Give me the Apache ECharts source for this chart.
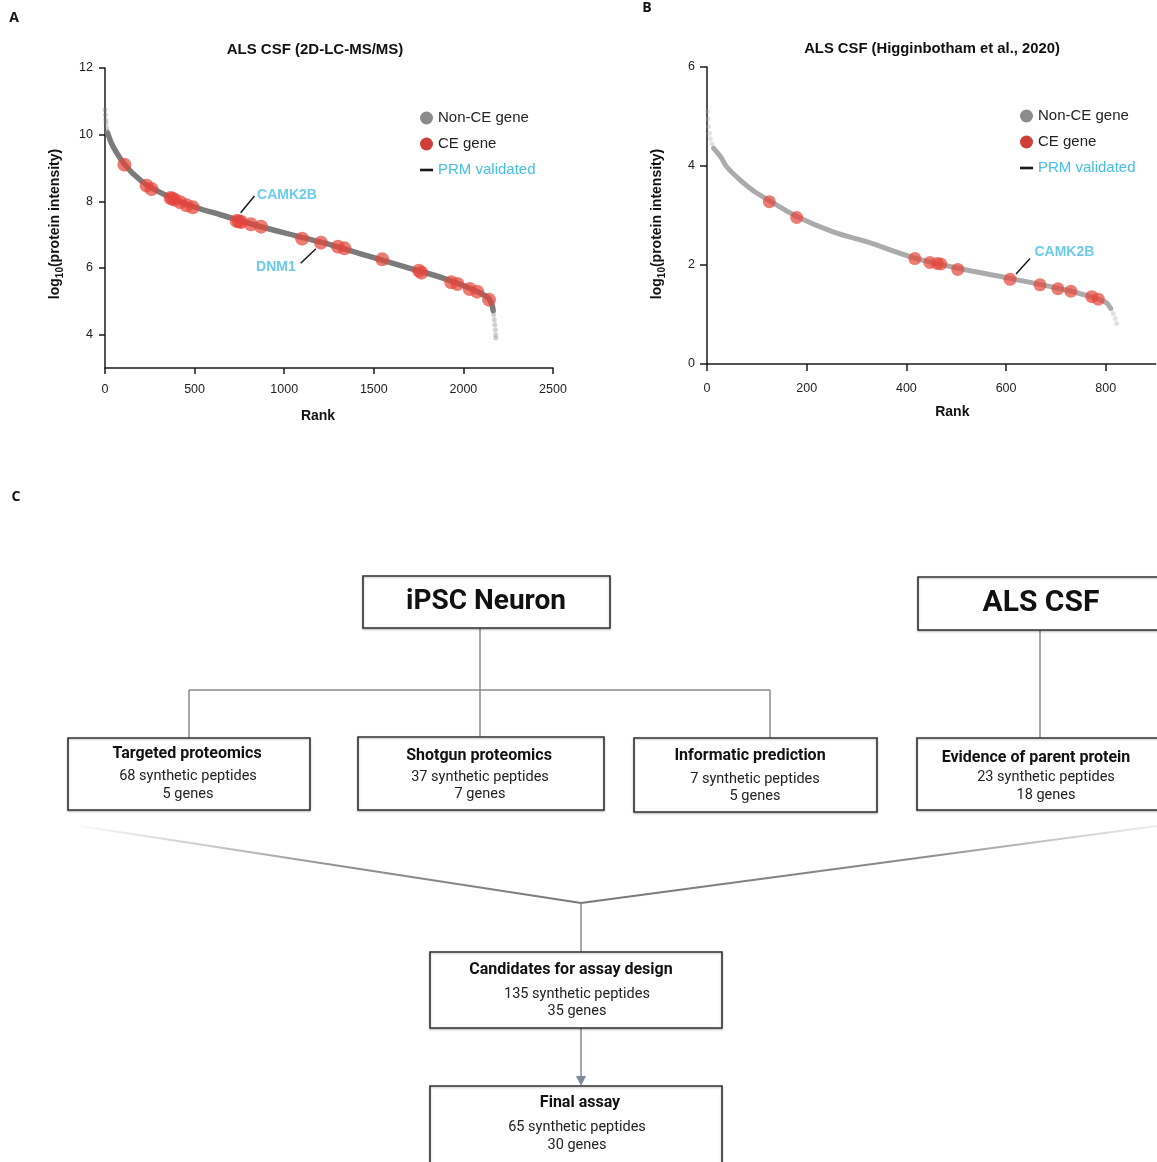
<!DOCTYPE html>
<html><head><meta charset="utf-8">
<script src="https://cdn.jsdelivr.net/npm/echarts@6/dist/echarts.min.js"></script>
<style>html,body{margin:0;padding:0;background:#fff}#c{width:1157px;height:1162px}</style>
</head><body><div id="c"></div>
<script>
// ---------- Panel A: ALS CSF (2D-LC-MS/MS) ----------
const rankA_curve = [15, 37, 68, 106, 151, 234, 337, 482, 648, 855, 1062, 1269, 1476, 1683, 1890, 2056, 2139, 2159, 2166];
const valA_curve  = [10.05, 9.73, 9.43, 9.13, 8.86, 8.49, 8.19, 7.86, 7.59, 7.26, 6.97, 6.68, 6.35, 6.02, 5.69, 5.35, 5.10, 4.90, 4.72];
const rankA_tail  = [0, 2, 4, 6, 9, 12, 2169, 2172, 2175, 2178, 2180, 2181];
const valA_tail   = [10.75, 10.6, 10.45, 10.35, 10.2, 10.1, 4.6, 4.45, 4.3, 4.15, 4.0, 3.9];
const rankA_CE = [108, 232, 260, 366, 376, 388, 421, 456, 490, 735, 748, 760, 815, 871, 1100, 1205, 1300, 1336, 1547, 1752, 1766, 1932, 1967, 2035, 2077, 2143];
const valA_CE  = [9.10, 8.47, 8.37, 8.10, 8.08, 8.05, 7.97, 7.88, 7.82, 7.41, 7.40, 7.38, 7.31, 7.24, 6.88, 6.76, 6.64, 6.59, 6.26, 5.92, 5.86, 5.57, 5.52, 5.37, 5.29, 5.05];
const prmGenesA = ['CAMK2B', 'DNM1'];
const xTicksA = [0, 500, 1000, 1500, 2000, 2500];
const yTicksA = [4, 6, 8, 10, 12];

// ---------- Panel B: ALS CSF (Higginbotham et al., 2020) ----------
const rankB_curve = [13, 29, 39, 66, 93, 125, 180, 253, 320, 417, 521, 608, 722, 785, 802, 810];
const valB_curve  = [4.36, 4.16, 3.99, 3.72, 3.50, 3.30, 2.98, 2.67, 2.47, 2.14, 1.90, 1.73, 1.49, 1.31, 1.23, 1.12];
const rankB_tail  = [1, 2, 3, 5, 7, 10, 815, 819, 822];
const valB_tail   = [5.10, 4.95, 4.80, 4.66, 4.55, 4.45, 1.02, 0.92, 0.82];
const rankB_CE = [125, 180, 417, 447, 462, 469, 503, 608, 668, 704, 730, 772, 785];
const valB_CE  = [3.28, 2.96, 2.13, 2.05, 2.03, 2.02, 1.91, 1.71, 1.60, 1.52, 1.47, 1.36, 1.31];
const prmGenesB = ['CAMK2B'];
const xTicksB = [0, 200, 400, 600, 800];
const yTicksB = [0, 2, 4, 6];

// ---------- Panel C: flowchart text ----------
const sourceLabels = ['iPSC Neuron', 'ALS CSF'];
const flowTitles   = ['Targeted proteomics', 'Shotgun proteomics', 'Informatic prediction', 'Evidence of parent protein', 'Candidates for assay design', 'Final assay'];
const flowPeptides = ['68 synthetic peptides', '37 synthetic peptides', '7 synthetic peptides', '23 synthetic peptides', '135 synthetic peptides', '65 synthetic peptides'];
const flowGenes    = ['5 genes', '7 genes', '5 genes', '18 genes', '35 genes', '30 genes'];
const legendNames  = ['Non-CE gene', 'CE gene', 'PRM validated'];

// ---------- annotation anchors (data space) ----------
const annoA = [
  {label:[843, 8.18], pos:'right', line:[[757, 7.66], [834, 8.16]]},
  {label:[1070, 6.04], pos:'left', line:[[1177, 6.58], [1092, 6.14]]}
];
const annoB = [
  {label:[655, 2.25], pos:'right', line:[[620, 1.82], [648, 2.13]]}
];

// ---------- layout (pixels) ----------
const sourceLayout = [
  {x:363, y:576, w:247, h:52, cx:486, font:'bold 28px Roboto'},
  {x:918, y:577, w:262, h:53, cx:1041, font:'bold 30px Roboto'}
];
const boxLayout = [
  {x:68,  y:738, w:242, h:72, cx:187, cs:188, ty:754, l1:776, l2:794},
  {x:358, y:737, w:246, h:73, cx:479, cs:480, ty:756, l1:777, l2:794},
  {x:634, y:738, w:243, h:74, cx:750, cs:755, ty:756, l1:779, l2:796},
  {x:917, y:738, w:262, h:72, cx:1036, cs:1046, ty:758, l1:777, l2:795},
  {x:430, y:952, w:292, h:76, cx:571, cs:577, ty:970, l1:994, l2:1011},
  {x:430, y:1086, w:292, h:90, cx:580, cs:577, ty:1103, l1:1127, l2:1145}
];

const FONT = '"Liberation Sans", Arial, sans-serif';
const GREY_A = '#7b7b7b', GREY_B = '#ababab', RED = '#e6453b', CYAN = '#45bee8', INK = '#1a1a1a';

const zip = (a, b) => a.map((v, i) => [v, b[i]]);

function makeAxes(gi, xmin, xmax, xt, ymin, ymax, yt, xNamePad, yNamePad, tickLen, xMargin) {
  const axLine = {show:true, onZero:false, lineStyle:{color:INK, width:1.5}};
  const axTick = {show:true, length:tickLen, lineStyle:{color:INK, width:1.5}};
  const fmt = v => String(v);
  const x = {
    gridIndex:gi, type:'value', min:xmin, max:xmax,
    axisLine:axLine, axisTick:Object.assign({customValues:xt}, axTick),
    axisLabel:{customValues:xt, formatter:fmt, fontSize:12.5, color:'#222', margin:xMargin, fontFamily:FONT},
    splitLine:{show:false},
    name:'Rank', nameLocation:'middle', nameGap:41,
    nameTextStyle:{fontSize:14, fontWeight:'bold', color:'#111', fontFamily:FONT, padding:xNamePad}
  };
  const y = {
    gridIndex:gi, type:'value', min:ymin, max:ymax,
    axisLine:axLine, axisTick:Object.assign({customValues:yt}, axTick),
    axisLabel:{customValues:yt, formatter:fmt, fontSize:12.5, color:'#222', margin:12, fontFamily:FONT},
    splitLine:{show:false},
    name:'{a|log}{s|10}{a|(protein intensity)}', nameLocation:'middle', nameGap:40, nameRotate:90,
    nameTextStyle:{padding:yNamePad, rich:{
      a:{fontSize:14, fontWeight:'bold', color:'#111', fontFamily:FONT, lineHeight:20},
      s:{fontSize:10, fontWeight:'bold', color:'#111', fontFamily:FONT, lineHeight:10, verticalAlign:'bottom'}
    }}
  };
  return [x, y];
}

const [xA, yA] = makeAxes(0, 0, 2500, xTicksA, 3, 12, yTicksA, [0,22,0,0], [0,12,0,0], 6, 15);
const [xB, yB] = makeAxes(1, 0, 900, xTicksB, 0, 6, yTicksB, [0,0,0,42], [0,17,0,0], 7, 18);

function panelSeries(ai, curveR, curveV, tailR, tailV, ceR, ceV, genes, anno, grey, lw, ceSize) {
  return [
    {type:'line', name:legendNames[0], xAxisIndex:ai, yAxisIndex:ai, data:zip(curveR, curveV),
     smooth:0.35, showSymbol:false, silent:true, lineStyle:{color:grey, width:lw, cap:'round'}, itemStyle:{color:grey}, z:2},
    {type:'scatter', name:legendNames[0], xAxisIndex:ai, yAxisIndex:ai, data:zip(tailR, tailV),
     symbolSize:5, silent:true, itemStyle:{color:grey, opacity:0.35}, z:2},
    {type:'scatter', name:legendNames[1], xAxisIndex:ai, yAxisIndex:ai, data:zip(ceR, ceV),
     symbolSize:ceSize, silent:true, itemStyle:{color:RED, opacity:0.7}, z:3},
    {type:'scatter', name:legendNames[2], xAxisIndex:ai, yAxisIndex:ai, symbolSize:0, silent:true,
     itemStyle:{color:INK},
     data:genes.map((g, i) => ({name:g, value:anno[i].label, label:{position:anno[i].pos}})),
     label:{show:true, formatter:'{b}', distance:1, color:CYAN, fontSize:14, fontWeight:'bold', fontFamily:FONT},
     markLine:{silent:true, symbol:['none','none'], label:{show:false},
       lineStyle:{color:INK, width:1.5, type:'solid'},
       data:anno.map(a => [{coord:a.line[0]}, {coord:a.line[1]}])},
     z:4}
  ];
}

function legendFor(left, top) {
  return {
    left, top, orient:'vertical', itemWidth:13, itemHeight:13, itemGap:10, selectedMode:false,
    textStyle:{fontSize:15, color:'#222', fontFamily:FONT, lineHeight:16},
    data:[
      {name:legendNames[0], icon:'circle', itemStyle:{color:'#8c8c8c', opacity:1}},
      {name:legendNames[1], icon:'circle', itemStyle:{color:'#cf3f38', opacity:1}},
      {name:legendNames[2], icon:'path://M0,0H10V2H0Z', itemStyle:{color:INK, opacity:1}, textStyle:{color:CYAN}}
    ]
  };
}

// ---------- graphic (titles, letters, flowchart) ----------
const G = [];
function txt(x, y, text, font, fill, align) {
  G.push({type:'text', x, y, z:20, silent:true,
    style:{text, font, fill:fill || '#222', align:align || 'center', verticalAlign:'middle'}});
}
function seg(x1, y1, x2, y2, stroke, w) {
  G.push({type:'line', z:5, silent:true, shape:{x1, y1, x2, y2}, style:{stroke, lineWidth:w || 1.5}});
}
function box(b) {
  G.push({type:'rect', z:6, silent:true, shape:{x:b.x, y:b.y, width:b.w, height:b.h},
    style:{fill:'#fff', stroke:'#333', lineWidth:1.6, shadowBlur:2, shadowOffsetY:1, shadowColor:'rgba(0,0,0,0.25)'}});
}

txt(14, 18, 'A', 'bold 14px "Open Sans"', '#111');
txt(647, 8, 'B', 'bold 14px "Open Sans"', '#111');
txt(16, 497, 'C', 'bold 14px "Open Sans"', '#111');
txt(315, 50, 'ALS CSF (2D-LC-MS/MS)', 'bold 15px ' + FONT, '#111');
txt(932, 49, 'ALS CSF (Higginbotham et al., 2020)', 'bold 14.8px ' + FONT, '#111');

// connectors
const LC = '#8a8a8a';
seg(480, 628, 480, 738, LC);
seg(189, 690, 770, 690, LC);
seg(189, 690, 189, 738, LC);
seg(770, 690, 770, 738, LC);
seg(1040, 630, 1040, 738, LC);
G.push({type:'line', z:5, silent:true, shape:{x1:80, y1:826, x2:581, y2:903},
  style:{lineWidth:2, stroke:new echarts.graphic.LinearGradient(0, 0, 1, 0, [
    {offset:0, color:'rgba(150,150,150,0.05)'}, {offset:0.5, color:'rgba(120,120,120,0.8)'}, {offset:1, color:'#777'}])}});
G.push({type:'line', z:5, silent:true, shape:{x1:1157, y1:826, x2:581, y2:903},
  style:{lineWidth:2, stroke:new echarts.graphic.LinearGradient(0, 0, 1, 0, [
    {offset:0, color:'#777'}, {offset:0.6, color:'rgba(120,120,120,0.85)'}, {offset:1, color:'rgba(150,150,150,0.15)'}])}});
seg(581, 903, 581, 952, LC);
seg(581, 1028, 581, 1078, '#7d8b9b');
G.push({type:'polygon', z:5, silent:true, shape:{points:[[576, 1076], [586, 1076], [581, 1086]]}, style:{fill:'#7d8b9b'}});

sourceLabels.forEach((s, i) => {
  const L = sourceLayout[i];
  box(L);
  txt(L.cx, L.y + L.h / 2, s, L.font, '#111');
});
flowTitles.forEach((t, i) => {
  const L = boxLayout[i];
  box(L);
  txt(L.cx, L.ty, t, 'bold 16px Roboto', '#111');
  txt(L.cs, L.l1, flowPeptides[i], '14.5px Roboto', '#222');
  txt(L.cs, L.l2, flowGenes[i], '14.5px Roboto', '#222');
});

const option = {
  backgroundColor:'#fff',
  animation:false,
  grid:[
    {left:105, top:68, width:448, height:300},
    {left:707, top:67, width:448.6, height:297}
  ],
  xAxis:[xA, xB],
  yAxis:[yA, yB],
  legend:[legendFor(415, 105), legendFor(1015, 103)],
  series:[].concat(
    panelSeries(0, rankA_curve, valA_curve, rankA_tail, valA_tail, rankA_CE, valA_CE, prmGenesA, annoA, GREY_A, 5.5, 14),
    panelSeries(1, rankB_curve, valB_curve, rankB_tail, valB_tail, rankB_CE, valB_CE, prmGenesB, annoB, GREY_B, 5, 13)
  ),
  graphic:G
};
const chart = echarts.init(document.getElementById('c'));
chart.setOption(option);
</script></body></html>
